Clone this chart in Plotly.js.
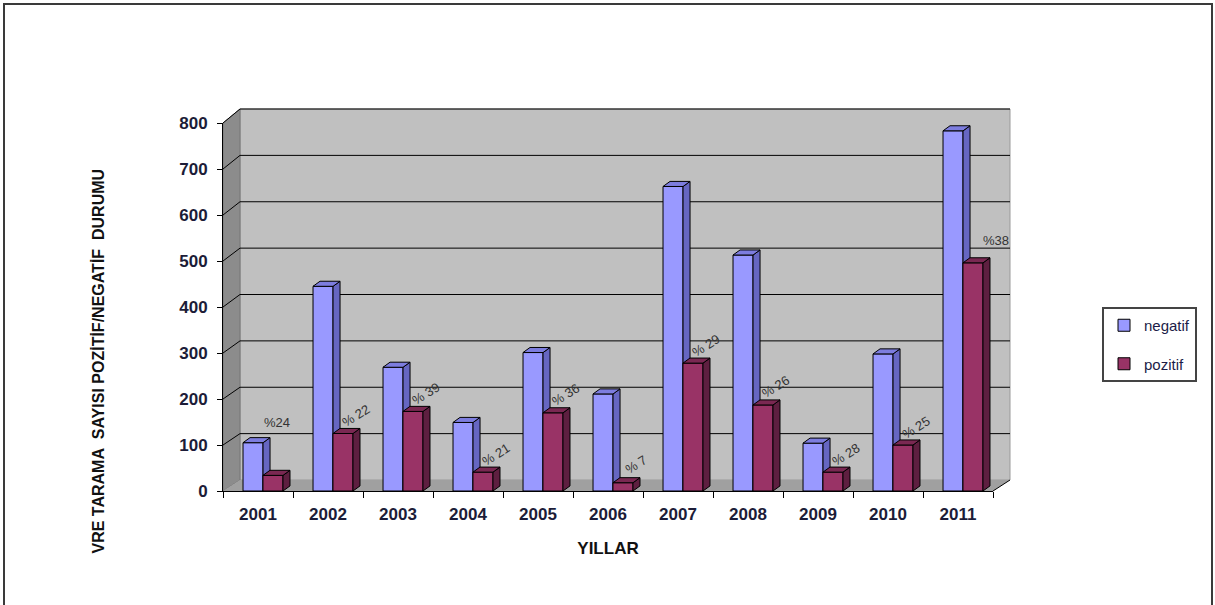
<!DOCTYPE html>
<html>
<head>
<meta charset="utf-8">
<script src="https://cdn.plot.ly/plotly-3.0.1.min.js"></script>
<style>html,body{margin:0;padding:0;background:#fff;}#chart{width:1215px;height:605px;}</style>
</head>
<body>
<div id="chart"></div>
<script>
// ---- data ----
const years = ['2001','2002','2003','2004','2005','2006','2007','2008','2009','2010','2011'];
const negatif = [105, 445, 269, 149, 301, 211, 662, 513, 104, 298, 783];
const pozitif = [34, 125, 173, 41, 170, 18, 278, 187, 41, 100, 496];
const pctLabels = ['%24','% 22','% 39','% 21','% 36','% 7','% 29','% 26','% 28','% 25','%38'];
const yTicks = [0, 100, 200, 300, 400, 500, 600, 700, 800];
const seriesNames = ['negatif', 'pozitif'];

// ---- geometry / style ----
const W = 1215, H = 605;
const FX0 = 223, FX1 = 993, FY0 = 491, FYT = 123;      // front plane
const BX0 = 240, BX1 = 1010, BY0 = 480, BYT = 109;     // back wall
const YMAX = 800;
const px = v => v / W, py = v => 1 - v / H;
const yFront = v => FY0 - (FY0 - FYT) * v / YMAX;
const yBack = v => BY0 - (BY0 - BYT) * v / YMAX;

const barW = 0.286, negOff = -0.214, posOff = 0.071;
const depthX = 0.1, depthY = 11;
const idx = years.map((_, i) => i);

function faces(vals, off) {
  const side = {x: [], y: []}, top = {x: [], y: []};
  vals.forEach((v, i) => {
    const x0 = i + off, x1 = i + off + barW;
    side.x.push(x1, x1 + depthX, x1 + depthX, x1, x1, null);
    side.y.push(0, depthY, v + depthY, v, 0, null);
    top.x.push(x0, x0 + depthX, x1 + depthX, x1, x0, null);
    top.y.push(v, v + depthY, v + depthY, v, v, null);
  });
  return {side, top};
}

const negF = faces(negatif, negOff);
const posF = faces(pozitif, posOff);
const edge = {color: '#000', width: 1};

const data = [
  {type: 'bar', name: seriesNames[0], x: idx, y: negatif, width: barW, offset: negOff,
   marker: {color: '#9999FF', line: edge}, legendgroup: 'a', hoverinfo: 'y'},
  {type: 'scatter', mode: 'lines', x: negF.side.x, y: negF.side.y, fill: 'toself',
   fillcolor: '#6666C2', line: edge, showlegend: false, hoverinfo: 'skip'},
  {type: 'scatter', mode: 'lines', x: negF.top.x, y: negF.top.y, fill: 'toself',
   fillcolor: '#7D7DDF', line: edge, showlegend: false, hoverinfo: 'skip'},
  {type: 'bar', name: seriesNames[1], x: idx, y: pozitif, width: barW, offset: posOff,
   xaxis: 'x3', yaxis: 'y3',
   marker: {color: '#993366', line: edge}, legendgroup: 'b', hoverinfo: 'y'},
  {type: 'scatter', mode: 'lines', x: posF.side.x, y: posF.side.y, fill: 'toself',
   xaxis: 'x3', yaxis: 'y3',
   fillcolor: '#5E1F40', line: edge, showlegend: false, hoverinfo: 'skip'},
  {type: 'scatter', mode: 'lines', x: posF.top.x, y: posF.top.y, fill: 'toself',
   xaxis: 'x3', yaxis: 'y3',
   fillcolor: '#7A2852', line: edge, showlegend: false, hoverinfo: 'skip'}
];

// ---- walls and gridlines ----
const shapes = [];
const lineBelow = (x0, y0, x1, y1, color, width) => shapes.push({type: 'line', xref: 'paper', yref: 'paper',
  x0: px(x0), y0: py(y0), x1: px(x1), y1: py(y1), line: {color: color, width: width}, layer: 'below'});
const poly = (pts, fill, lc) => shapes.push({type: 'path', xref: 'paper', yref: 'paper', layer: 'below',
  path: 'M' + pts.map(p => px(p[0]) + ',' + py(p[1])).join(' L') + ' Z',
  fillcolor: fill, line: {color: lc, width: lc ? 1 : 0}});

shapes.push({type: 'rect', xref: 'paper', yref: 'paper', layer: 'below',
  x0: px(BX0), x1: px(BX1), y0: py(BY0), y1: py(BYT), fillcolor: '#C0C0C0', line: {color: '#9a9a9a', width: 1}});
poly([[FX0, FYT], [BX0, BYT], [BX0, BY0], [FX0, FY0]], '#8C8C8C', '#777777');
poly([[FX0, FY0], [BX0, BY0], [BX1, BY0], [FX1, FY0]], '#A0A0A0', null);
yTicks.forEach(v => {
  if (v === 0) return;
  lineBelow(FX0, yFront(v), BX0, yBack(v), '#000', 1);
  lineBelow(BX0, yBack(v), BX1, yBack(v), '#000', 1);
});
lineBelow(FX1, FY0, BX1, BY0, '#000', 1);
// outer frame
shapes.push({type: 'rect', xref: 'paper', yref: 'paper', x0: px(4), x1: px(1212), y0: -0.05, y1: py(4),
  line: {color: '#3a3a3a', width: 2}, fillcolor: 'rgba(0,0,0,0)', layer: 'above'});

// ---- percentage labels ----
const flat = {0: [-6, 53], 10: [13, 22]};
const annotations = pctLabels.map((t, i) => {
  const f = flat[i];
  return {
    xref: 'x3', yref: 'y3', x: i + posOff + barW, y: pozitif[i], text: t, showarrow: false,
    xanchor: 'center', yanchor: 'middle',
    xshift: f ? f[0] : 3, yshift: f ? f[1] : 18, textangle: f ? 0 : -32,
    font: {family: 'Liberation Sans, Arial, sans-serif', size: 13, color: '#333'}
  };
});
annotations.push({
  xref: 'paper', yref: 'paper', x: px(98), y: py(167), xanchor: 'center', yanchor: 'top',
  text: 'VRE TARAMA\u00a0\u00a0SAYISI POZİTİF/NEGATİF\u00a0\u00a0DURUMU', textangle: -90, showarrow: false,
  font: {family: 'Liberation Sans, Arial, sans-serif', size: 16, color: '#111', weight: 'bold'}
});

const tickFont = {family: 'Liberation Sans, Arial, sans-serif', size: 17, color: '#1c1c38', weight: 'bold'};

const layout = {
  width: W, height: H,
  margin: {l: 0, r: 0, t: 0, b: 0},
  paper_bgcolor: '#fff', plot_bgcolor: 'rgba(0,0,0,0)',
  showlegend: true,
  xaxis: {domain: [px(FX0), px(FX1)], range: [-0.5, 10.5], tickmode: 'array', tickvals: idx, ticktext: years,
    ticks: '', showline: true, linecolor: '#000', linewidth: 1, showgrid: false, zeroline: false,
    tickfont: tickFont, ticklabelstandoff: 8, fixedrange: true,
    minor: {tickmode: 'linear', tick0: 0.5, dtick: 1, ticks: 'outside', ticklen: 6, tickcolor: '#000', tickwidth: 1, showgrid: false},
    title: {text: 'YILLAR', standoff: 18, font: {family: 'Liberation Sans, Arial, sans-serif', size: 17, color: '#111', weight: 'bold'}}},
  yaxis: {domain: [py(FY0), py(FYT)], range: [0, YMAX], tickmode: 'array', tickvals: yTicks,
    ticks: 'outside', ticklen: 5, tickcolor: '#000', showline: true, linecolor: '#000', linewidth: 1,
    showgrid: false, zeroline: false, tickfont: tickFont, ticklabelstandoff: 6, fixedrange: true},
  xaxis3: {overlaying: 'x', anchor: 'y3', range: [-0.5, 10.5], visible: false, fixedrange: true},
  yaxis3: {overlaying: 'y', anchor: 'x3', range: [0, YMAX], visible: false, fixedrange: true},
  barmode: 'overlay',
  legend: {x: px(1102), y: py(307), xanchor: 'left', yanchor: 'top', bgcolor: '#fff',
    bordercolor: '#444', borderwidth: 2, traceorder: 'grouped', tracegroupgap: 16,
    font: {family: 'Liberation Sans, Arial, sans-serif', size: 15, color: '#1c1c48'}},
  shapes: shapes,
  annotations: annotations
};

Plotly.newPlot('chart', data, layout, {displayModeBar: false, staticPlot: true});
</script>
</body>
</html>
